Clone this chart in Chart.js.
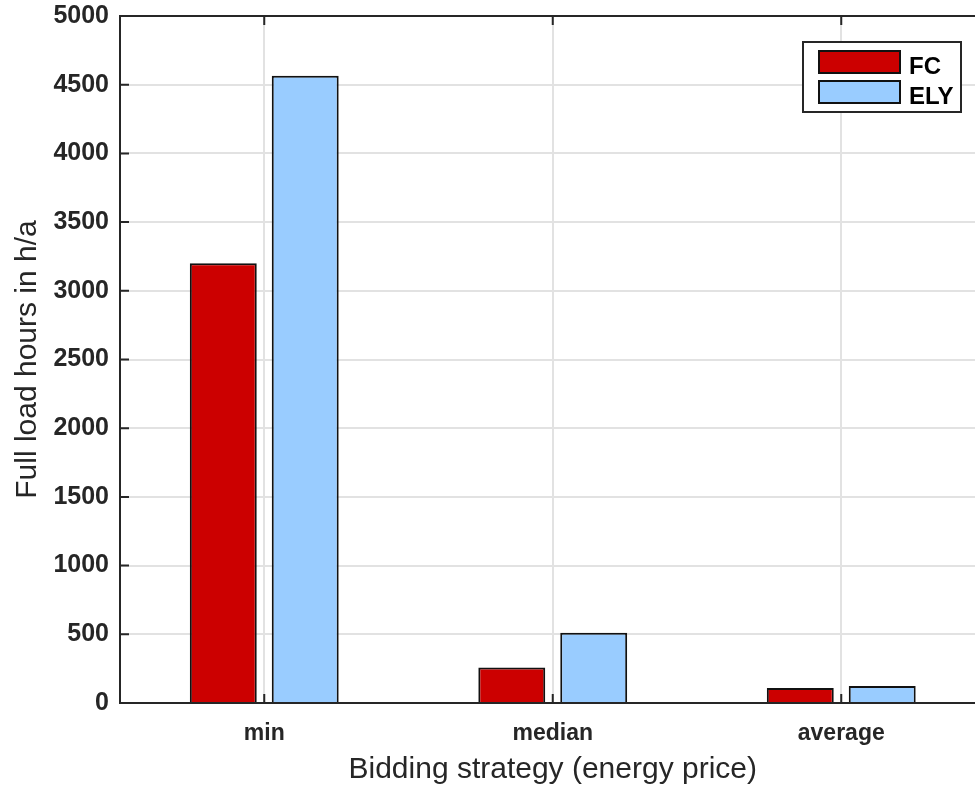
<!DOCTYPE html>
<html>
<head>
<meta charset="utf-8">
<script src="https://cdn.jsdelivr.net/npm/chart.js@4.4.1/dist/chart.umd.min.js"></script>
<style>
  html, body { margin: 0; padding: 0; background: #fff; overflow: hidden; }
  #wrap { width: 990px; height: 785px; }
</style>
</head>
<body>
<div id="wrap"><canvas id="c" width="990" height="785"></canvas></div>
<script>
const categories = ['min', 'median', 'average'];
const fcValues = [3200, 258, 110];
const elyValues = [4565, 512, 124];
const seriesNames = ['FC', 'ELY'];
const yTicks = [0, 500, 1000, 1500, 2000, 2500, 3000, 3500, 4000, 4500, 5000];

const FONT = '"Liberation Sans", Arial, sans-serif';
const AXIS = '#262626';

const frame = {
  id: 'frame',
  afterDraw(chart) {
    const ctx = chart.ctx, a = chart.chartArea;
    const xs = chart.scales.x, ys = chart.scales.y;
    ctx.save();
    ctx.strokeStyle = AXIS;
    ctx.lineWidth = 2;
    ctx.beginPath();
    ctx.moveTo(a.left, a.top); ctx.lineTo(a.right, a.top);
    ctx.stroke();
    ctx.beginPath();
    yTicks.forEach(v => {
      const y = ys.getPixelForValue(v);
      ctx.moveTo(a.left, y); ctx.lineTo(a.left + 9, y);
    });
    categories.forEach((c, i) => {
      const x = xs.getPixelForValue(i);
      ctx.moveTo(x, a.bottom); ctx.lineTo(x, a.bottom - 9);
      ctx.moveTo(x, a.top); ctx.lineTo(x, a.top + 9);
    });
    ctx.stroke();
    // legend
    const lx = a.right - 182.5, ly = a.top + 26, lw = 158, lh = 70;
    ctx.fillStyle = '#fff';
    ctx.fillRect(lx, ly, lw, lh);
    ctx.lineWidth = 2;
    ctx.strokeStyle = '#262626';
    ctx.strokeRect(lx, ly, lw, lh);
    chart.data.datasets.forEach((ds, i) => {
      const sy = ly + 9 + i * 30;
      ctx.fillStyle = ds.backgroundColor;
      ctx.fillRect(lx + 16, sy, 81, 22);
      ctx.lineWidth = 2;
      ctx.strokeStyle = '#111';
      ctx.strokeRect(lx + 16, sy, 81, 22);
      ctx.fillStyle = '#000';
      ctx.font = 'bold 24px ' + FONT;
      ctx.textBaseline = 'alphabetic';
      ctx.textAlign = 'left';
      ctx.fillText(ds.label, lx + 106, sy + 23);
    });
    ctx.restore();
  }
};

new Chart(document.getElementById('c'), {
  type: 'bar',
  data: {
    labels: categories,
    datasets: [
      { label: seriesNames[0], data: fcValues, backgroundColor: '#CC0000', borderColor: '#111', borderWidth: 2 },
      { label: seriesNames[1], data: elyValues, backgroundColor: '#99CCFF', borderColor: '#111', borderWidth: 2 }
    ]
  },
  options: {
    responsive: false,
    animation: false,
    layout: { padding: { top: 16, right: 4.5, left: 0, bottom: 0 } },
    datasets: { bar: { categoryPercentage: 0.568, barPercentage: 0.817 } },
    plugins: { legend: { display: false }, tooltip: { enabled: false } },
    scales: {
      x: {
        afterFit(s) { s.height = 82; s.paddingLeft = 0; s.paddingRight = 0; },
        grid: { offset: false, color: '#e2e2e2', lineWidth: 2, drawTicks: false },
        border: { color: AXIS, width: 2 },
        ticks: { padding: 17, color: AXIS, font: { family: FONT, size: 23, weight: 'bold' } },
        title: { display: true, text: 'Bidding strategy (energy price)', color: AXIS,
                 font: { family: FONT, size: 30 }, padding: { top: 0, bottom: -3 } }
      },
      y: {
        min: 0, max: 5000,
        afterFit(s) { s.width = 120; s.paddingTop = 0; s.paddingBottom = 0; },
        afterBuildTicks(s) { s.ticks = yTicks.map(v => ({ value: v })); },
        grid: { color: '#e2e2e2', lineWidth: 2, drawTicks: false },
        border: { color: AXIS, width: 2 },
        ticks: { padding: 11, color: AXIS, font: { family: FONT, size: 25, weight: 'bold' },
                 callback: v => String(v) },
        title: { display: true, text: 'Full load hours in h/a', color: AXIS,
                 font: { family: FONT, size: 30 }, padding: { top: 10, bottom: 0 } }
      }
    }
  },
  plugins: [frame]
});
</script>
</body>
</html>
